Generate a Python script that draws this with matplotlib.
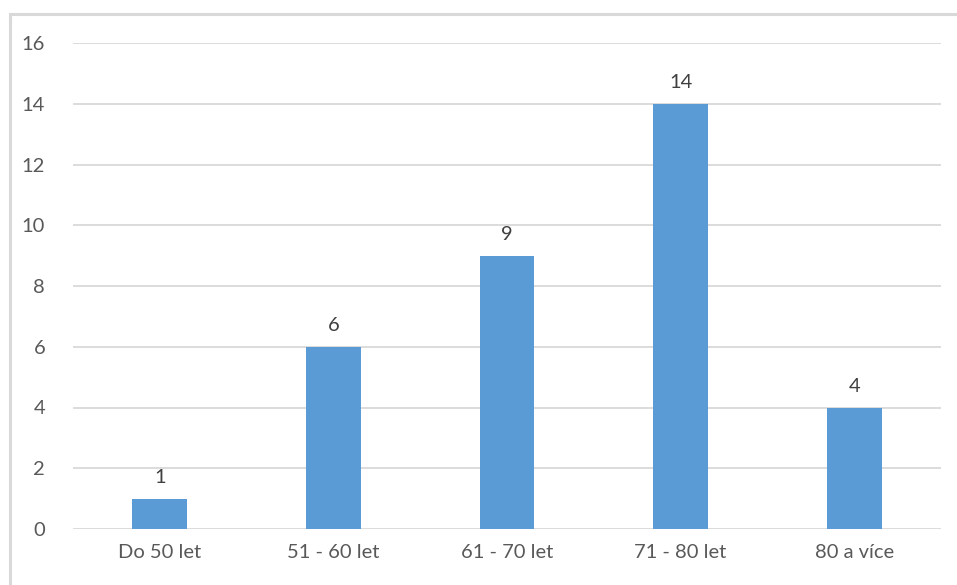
import matplotlib
matplotlib.use("Agg")
from matplotlib import pyplot as plt
from matplotlib.patches import Rectangle

categories = ["Do 50 let", "51 - 60 let", "61 - 70 let", "71 - 80 let", "80 a více"]
counts = [1, 6, 9, 14, 4]
yticks = [0, 2, 4, 6, 8, 10, 12, 14, 16]

plt.rcParams["font.family"] = ["Lato", "DejaVu Sans"]
W, H = 957, 585
fig = plt.figure(figsize=(W / 100, H / 100), dpi=100)

# frame around the chart, running off the right and bottom edges
fig.patches.append(Rectangle((9.5 / W, -0.1), 1.2, 1.1 - 14.5 / H, transform=fig.transFigure,
                             fill=False, edgecolor="#d9d9d9", linewidth=2.2))

ax = fig.add_axes([73 / W, (H - 529) / H, (941 - 73) / W, (529 - 43) / H])
x = range(len(categories))
bars = ax.bar(x, counts, width=0.316, color="#5b9bd5", zorder=3)
for b, v in zip(bars, counts):
    ax.text(b.get_x() + b.get_width() / 2, v + 0.42, str(v), ha="center", va="bottom",
            fontsize=14.5, color="#404040")

ax.set_xlim(-0.5, len(categories) - 0.5)
ax.set_ylim(0, 16)
ax.set_yticks(yticks)
ax.set_xticks(list(x))
ax.set_xticklabels(categories)
ax.grid(axis="y", color="#d9d9d9", linewidth=1.3, zorder=0)
ax.tick_params(length=0, labelsize=14.5, labelcolor="#595959")
ax.tick_params(axis="y", pad=20)
ax.tick_params(axis="x", pad=11)
for s in ax.spines.values():
    s.set_visible(False)

fig.savefig("out.png", dpi=100)
